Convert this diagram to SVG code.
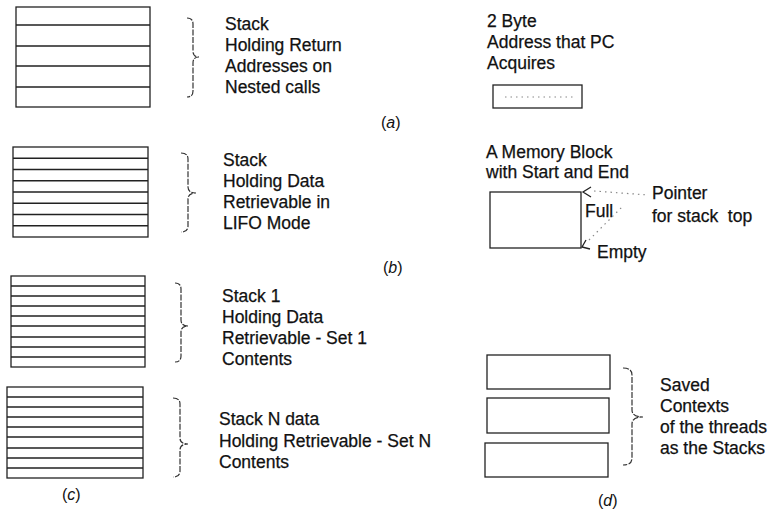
<svg xmlns="http://www.w3.org/2000/svg" width="771" height="517" viewBox="0 0 771 517">
<style>
.t{font-family:"Liberation Sans",Arial,Helvetica,sans-serif;font-size:17.5px;fill:#111;stroke:#111;stroke-width:0.25}
.cap{font-family:"Liberation Sans",Arial,Helvetica,sans-serif;font-size:16px;fill:#111}
.box{fill:none;stroke:#222;stroke-width:1.3}
.ln{stroke:#222;stroke-width:1.3;fill:none}
.br{fill:none;stroke:#333;stroke-width:1.2;stroke-dasharray:6 1.5}
.dot{fill:none;stroke:#888;stroke-width:1.2;stroke-dasharray:1.5 4}
</style>
<rect width="771" height="517" fill="#fff"/>

<g id="stack-a">
<rect class="box" x="16" y="7" width="134" height="100"/>
<path class="ln" d="M16 25H150M16 46H150M16 66H150M16 87H150"/>
</g>
<g id="brace-a"><path class="br" d="M187 18Q193 18 193 24V51Q193 57 199 57Q193 57 193 63V91Q193 97 187 97"/></g>
<g id="label-a">
<text class="t" x="225" y="30">Stack</text>
<text class="t" x="225" y="51">Holding Return</text>
<text class="t" x="225" y="72">Addresses on</text>
<text class="t" x="225" y="93">Nested calls</text>
<text class="cap" x="381" y="128">(<tspan font-style="italic">a</tspan>)</text>
</g>

<g id="stack-b">
<rect class="box" x="13" y="147" width="135" height="90"/>
<path class="ln" d="M13 158.25H148M13 169.5H148M13 180.75H148M13 192H148M13 203.25H148M13 214.5H148M13 225.75H148"/>
</g>
<g id="brace-b"><path class="br" d="M181 153Q188 153 188 159V187Q188 193 196 193Q188 193 188 199V226Q188 232 181 232"/></g>
<g id="label-b">
<text class="t" x="223" y="166">Stack</text>
<text class="t" x="223" y="187">Holding Data</text>
<text class="t" x="223" y="208">Retrievable in</text>
<text class="t" x="223" y="229">LIFO Mode</text>
<text class="cap" x="383" y="273">(<tspan font-style="italic">b</tspan>)</text>
</g>

<g id="stack-c1">
<rect class="box" x="11" y="276" width="134" height="91"/>
<path class="ln" d="M11 286H145M11 296H145M11 306H145M11 316H145M11 326H145M11 337H145M11 347H145M11 357H145"/>
</g>
<g id="brace-c1"><path class="br" d="M175 283Q181 283 181 289V320Q181 326 188 326Q181 326 181 332V356Q181 362 175 362"/></g>
<g id="label-c1">
<text class="t" x="222" y="302">Stack 1</text>
<text class="t" x="222" y="323">Holding Data</text>
<text class="t" x="222" y="344">Retrievable - Set 1</text>
<text class="t" x="222" y="365">Contents</text>
</g>

<g id="stack-cN">
<rect class="box" x="7" y="387" width="136" height="91"/>
<path class="ln" d="M7 397H143M7 407H143M7 417H143M7 427H143M7 437H143M7 448H143M7 458H143M7 468H143"/>
</g>
<g id="brace-cN"><path class="br" d="M173 398Q180 398 180 404V438Q180 444 188 444Q180 444 180 450V471Q180 477 173 477"/></g>
<g id="label-cN">
<text class="t" x="219" y="425">Stack N data</text>
<text class="t" x="219" y="447">Holding Retrievable - Set N</text>
<text class="t" x="219" y="468">Contents</text>
<text class="cap" x="62" y="500">(<tspan font-style="italic">c</tspan>)</text>
</g>

<g id="pc-address">
<text class="t" x="487" y="27">2 Byte</text>
<text class="t" x="487" y="48">Address that PC</text>
<text class="t" x="487" y="69">Acquires</text>
<rect class="box" x="493" y="85" width="89" height="23"/>
<path class="dot" d="M505 97H575"/>
</g>

<g id="memory-block">
<text class="t" x="486" y="158">A Memory Block</text>
<text class="t" x="486" y="178">with Start and End</text>
<rect class="box" x="490" y="192" width="91" height="56"/>
<text class="t" x="585" y="217">Full</text>
<text class="t" x="597" y="258">Empty</text>
<text class="t" x="652" y="199">Pointer</text>
<text class="t" x="652" y="222" xml:space="preserve">for stack  top</text>
</g>

<g id="connectors">
<path class="ln" d="M591 187L583 192L591 197"/>
<path class="ln" d="M586 240L582 247L590 249"/>
<path class="dot" d="M594 191L648 195"/>
<path class="dot" d="M589 240L624 205"/>
</g>

<g id="saved-contexts">
<rect class="box" x="487" y="355" width="123" height="34"/>
<rect class="box" x="487" y="398" width="122" height="35"/>
<rect class="box" x="485" y="443" width="123" height="34"/>
</g>
<g id="brace-d"><path class="br" d="M623 368Q632 368 632 375V410Q632 417 643 417Q632 417 632 424V458Q632 465 623 465"/></g>
<g id="label-d">
<text class="t" x="660" y="391">Saved</text>
<text class="t" x="660" y="412">Contexts</text>
<text class="t" x="660" y="433">of the threads</text>
<text class="t" x="660" y="454">as the Stacks</text>
<text class="cap" x="598" y="506">(<tspan font-style="italic">d</tspan>)</text>
</g>
</svg>
